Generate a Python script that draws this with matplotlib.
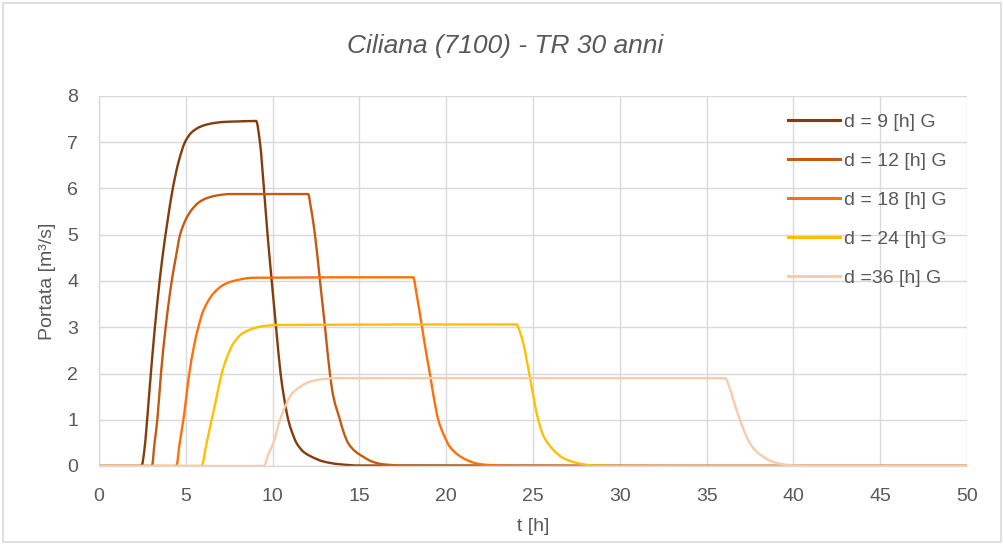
import matplotlib
matplotlib.use("Agg")
import matplotlib.pyplot as plt
from matplotlib.patches import Rectangle, PathPatch
from matplotlib.path import Path
from matplotlib.lines import Line2D
import numpy as np

plt.rcParams['font.family'] = ['Liberation Sans', 'DejaVu Sans']

title = "Ciliana (7100) - TR 30 anni"
xlabel = "t [h]"
ylabel = "Portata [m³/s]"
labels = ["d = 9 [h] G", "d = 12 [h] G", "d = 18 [h] G", "d = 24 [h] G", "d =36 [h] G"]
colors = ["#843C0C", "#C55A11", "#FF6F0A", "#FFC000", "#F8CBAD"]
xticks = [0, 5, 10, 15, 20, 25, 30, 35, 40, 45, 50]
yticks = [0, 1, 2, 3, 4, 5, 6, 7, 8]

t9 = [0, 2.45, 2.6, 2.75, 2.9, 3.1, 3.35, 3.65, 3.95, 4.25, 4.6, 4.95, 5.3, 5.8, 6.4, 7.2, 8.0,
      9.05, 9.27, 9.5, 9.71, 9.95, 10.2, 10.46, 10.65, 10.9, 11.1, 11.39, 11.8, 12.25, 12.9, 13.8, 15, 50]
q9 = [0, 0, 0.3, 0.9, 1.6, 2.5, 3.5, 4.5, 5.3, 6.0, 6.6, 7.0, 7.2, 7.33, 7.40, 7.44, 7.45,
      7.46, 7.0, 6.0, 5.0, 4.0, 3.0, 2.0, 1.5, 1.0, 0.75, 0.49, 0.3, 0.2, 0.1, 0.04, 0.01, 0]

t12 = [0, 3.05, 3.2, 3.36, 3.57, 3.84, 4.19, 4.42, 4.67, 5.0, 5.34, 5.75, 6.2, 6.8, 7.55,
       12.05, 12.2, 12.44, 12.73, 13.02, 13.3, 13.5, 13.88, 14.1, 14.36, 14.75, 15.22, 15.7, 16.3, 17.5, 50]
q12 = [0, 0, 0.5, 1.0, 2.0, 3.0, 4.0, 4.5, 5.0, 5.33, 5.54, 5.7, 5.79, 5.85, 5.88,
       5.88, 5.6, 5.0, 4.0, 3.0, 2.0, 1.5, 1.0, 0.72, 0.49, 0.32, 0.2, 0.1, 0.04, 0.01, 0]

t18 = [0, 4.45, 4.65, 4.86, 5.2, 5.45, 5.72, 6.0, 6.59, 7.1, 7.64, 8.9,
       18.1, 18.3, 18.59, 18.8, 19.07, 19.3, 19.55, 19.85, 20.2, 20.65, 21.18, 21.8, 22.5, 24, 50]
q18 = [0, 0, 0.5, 1.0, 2.0, 2.55, 3.0, 3.35, 3.73, 3.9, 3.99, 4.07,
       4.08, 3.7, 3.05, 2.55, 1.97, 1.45, 0.99, 0.68, 0.42, 0.25, 0.13, 0.05, 0.02, 0, 0]

t24 = [0, 5.9, 6.2, 6.49, 6.78, 7.07, 7.4, 7.74, 8.2, 8.7, 9.4, 10.24,
       24.06, 24.2, 24.44, 24.83, 25.06, 25.3, 25.63, 26.17, 26.7, 27.3, 28.0, 28.5, 30, 50]
q24 = [0, 0, 0.5, 1.0, 1.5, 2.0, 2.38, 2.65, 2.85, 2.95, 3.02, 3.05,
       3.06, 2.95, 2.65, 1.9, 1.43, 1.0, 0.63, 0.35, 0.18, 0.09, 0.03, 0.01, 0, 0]

t36 = [0, 9.5, 9.75, 10.04, 10.43, 10.81, 11.15, 11.58, 12.0, 12.54, 13.69,
       36.06, 36.3, 36.54, 36.92, 37.2, 37.5, 37.85, 38.27, 38.7, 39.2, 40, 41, 50]
q36 = [0, 0, 0.25, 0.49, 1.0, 1.36, 1.58, 1.71, 1.8, 1.86, 1.9,
       1.9, 1.72, 1.43, 1.0, 0.72, 0.49, 0.32, 0.2, 0.11, 0.05, 0.01, 0, 0]

series_t = [t9, t12, t18, t24, t36]
series_q = [q9, q12, q18, q24, q36]


def smooth_path(x, y):
    """Monotone (Fritsch-Carlson) cubic Bezier path through the given points (smoothed line style)."""
    x = np.asarray(x, float)
    y = np.asarray(y, float)
    h = np.diff(x)
    d = np.diff(y) / h
    n = len(x)
    m = np.zeros(n)
    for k in range(1, n - 1):
        if d[k - 1] * d[k] <= 0:
            m[k] = 0.0
        else:
            w1 = 2 * h[k] + h[k - 1]
            w2 = h[k] + 2 * h[k - 1]
            m[k] = (w1 + w2) / (w1 / d[k - 1] + w2 / d[k])
    verts = [(x[0], y[0])]
    codes = [Path.MOVETO]
    for k in range(n - 1):
        verts += [(x[k] + h[k] / 3, y[k] + m[k] * h[k] / 3),
                  (x[k + 1] - h[k] / 3, y[k + 1] - m[k + 1] * h[k] / 3),
                  (x[k + 1], y[k + 1])]
        codes += [Path.CURVE4] * 3
    return Path(verts, codes)


fig = plt.figure(figsize=(10.04, 5.46), dpi=100)
ax = fig.add_axes([99/1004, 1 - 466/546, (967-99)/1004, (466-96)/546])

txt = "#595959"
grid = "#D9D9D9"

handles = []
for t, q, c, lab in zip(series_t, series_q, colors, labels):
    p = PathPatch(smooth_path(t, q), facecolor='none', edgecolor=c, lw=1.7,
                  joinstyle='round', capstyle='round')
    ax.add_patch(p)
    handles.append(Line2D([], [], color=c, lw=2.2, label=lab))

ax.set_xlim(0, 50)
ax.set_ylim(0, 8)
ax.set_xticks(xticks)
ax.set_yticks(yticks)
ax.grid(True, color=grid, lw=1.0)
ax.set_axisbelow(True)
for s in ['top', 'right']:
    ax.spines[s].set_visible(False)
for s in ['left', 'bottom']:
    ax.spines[s].set_color(grid)
    ax.spines[s].set_linewidth(1.0)
ax.tick_params(axis='both', length=0, labelsize=14, labelcolor=txt)
ax.tick_params(axis='y', pad=15)
ax.tick_params(axis='x', pad=16)

ax.set_xlabel(xlabel, fontsize=14, color=txt, labelpad=9)
ax.set_ylabel(ylabel, fontsize=14, color=txt, labelpad=8)
fig.text(505/1004, 1 - 46/546, title, fontsize=19, style='italic', color=txt, ha='center', va='center')

leg = fig.legend(handles=handles, loc='upper left', bbox_to_anchor=(788/1004, 1 - 113/546),
                 bbox_transform=fig.transFigure, frameon=False, fontsize=14,
                 handlelength=2.68, handletextpad=0.2, labelspacing=1.1,
                 borderaxespad=0, borderpad=0)
for text in leg.get_texts():
    text.set_color(txt)

fig.patches.append(Rectangle((3/1004, 4/546), 998/1004, 539/546, transform=fig.transFigure,
                             fill=False, edgecolor=grid, lw=1.2))

fig.savefig("out.png", dpi=100)
